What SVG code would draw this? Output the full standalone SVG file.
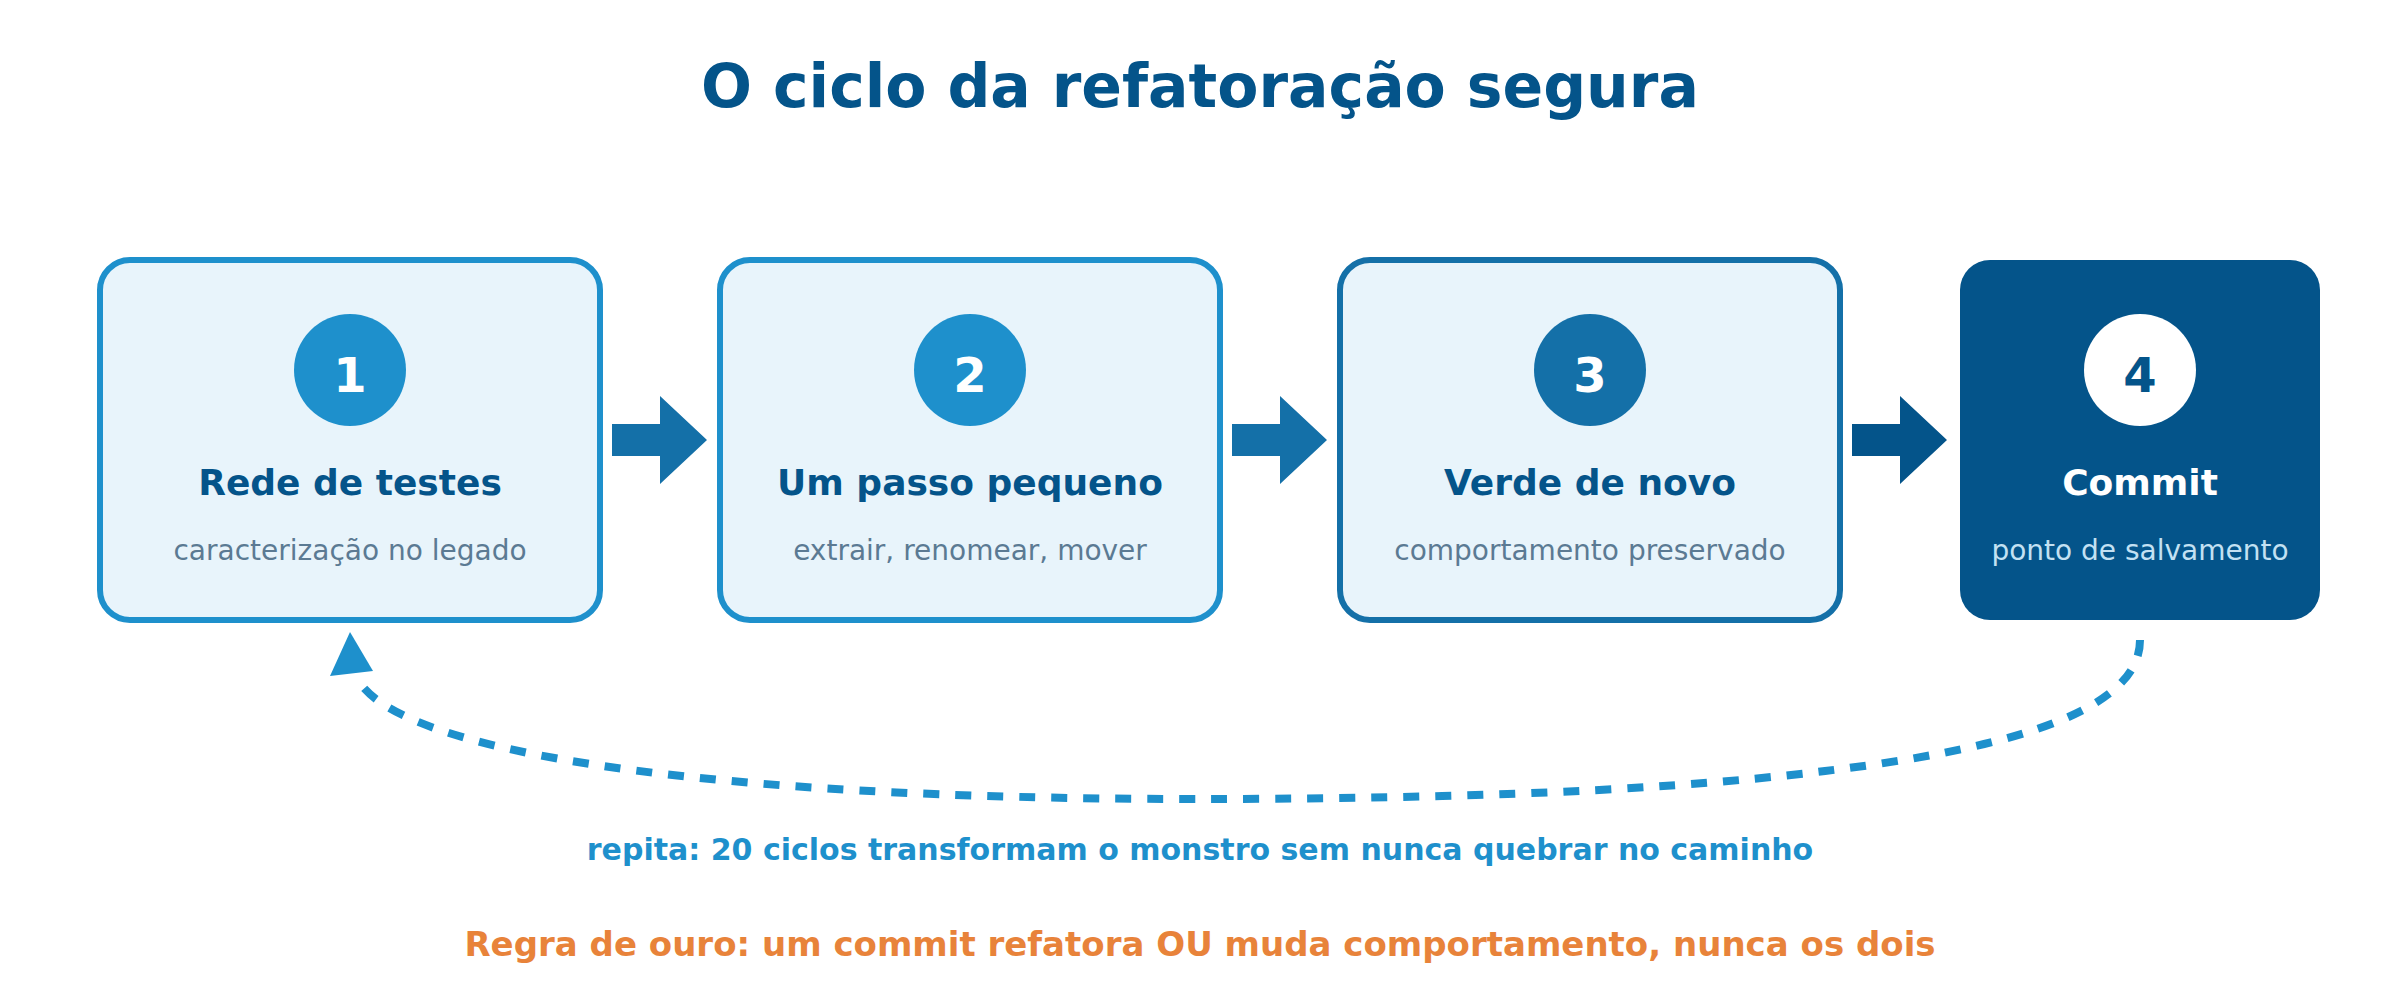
<svg xmlns="http://www.w3.org/2000/svg" width="2400" height="1000" viewBox="0 0 2400 1000">
  <style>
    text { font-family: "DejaVu Sans", "Liberation Sans", sans-serif; text-anchor: middle; }
    .title { font-size: 60px; font-weight: bold; fill: #04548a; }
    .box { fill: #e8f4fb; stroke-width: 6; }
    .num { font-size: 48px; font-weight: bold; fill: #ffffff; }
    .head { font-size: 36px; font-weight: bold; fill: #04548a; }
    .sub { font-size: 28px; fill: #5b7a93; }
    .loop { font-size: 30px; font-weight: bold; fill: #1e90cc; }
    .rule { font-size: 34px; font-weight: bold; fill: #e8833a; }
  </style>
  <rect width="2400" height="1000" fill="#ffffff"/>
  <text class="title" x="1200" y="107">O ciclo da refatoração segura</text>

  <g id="node1">
    <rect class="box" x="100" y="260" width="500" height="360" rx="30" stroke="#1e90cc"/>
    <circle cx="350" cy="370" r="56" fill="#1e90cc"/>
    <text class="num" x="350" y="392">1</text>
    <text class="head" x="350" y="495">Rede de testes</text>
    <text class="sub" x="350" y="560">caracterização no legado</text>
  </g>
  <g id="node2">
    <rect class="box" x="720" y="260" width="500" height="360" rx="30" stroke="#1e90cc"/>
    <circle cx="970" cy="370" r="56" fill="#1e90cc"/>
    <text class="num" x="970" y="392">2</text>
    <text class="head" x="970" y="495">Um passo pequeno</text>
    <text class="sub" x="970" y="560">extrair, renomear, mover</text>
  </g>
  <g id="node3">
    <rect class="box" x="1340" y="260" width="500" height="360" rx="30" stroke="#1470a8"/>
    <circle cx="1590" cy="370" r="56" fill="#1470a8"/>
    <text class="num" x="1590" y="392">3</text>
    <text class="head" x="1590" y="495">Verde de novo</text>
    <text class="sub" x="1590" y="560">comportamento preservado</text>
  </g>
  <g id="node4">
    <rect x="1960" y="260" width="360" height="360" rx="30" fill="#04548a"/>
    <circle cx="2140" cy="370" r="56" fill="#ffffff"/>
    <text class="num" x="2140" y="392" style="fill:#04548a">4</text>
    <text class="head" x="2140" y="495" style="fill:#ffffff">Commit</text>
    <text class="sub" x="2140" y="560" style="fill:#c3e1f3">ponto de salvamento</text>
  </g>

  <g id="connectors">
    <path d="M612,424 H660 V396 L707,440 L660,484 V456 H612 Z" fill="#1470a8"/>
    <path d="M1232,424 H1280 V396 L1327,440 L1280,484 V456 H1232 Z" fill="#1470a8"/>
    <path d="M1852,424 H1900 V396 L1947,440 L1900,484 V456 H1852 Z" fill="#04548a"/>
    <path d="M2140,640 C2140,720 1973,753 1825,771 C1640,794 1400,799 1194,799 C700,799 400,752 358,680" fill="none" stroke="#1e90cc" stroke-width="8" stroke-dasharray="16 16"/>
    <polygon points="350,632 330,676 373,671" fill="#1e90cc"/>
  </g>

  <text class="loop" x="1200" y="860">repita: 20 ciclos transformam o monstro sem nunca quebrar no caminho</text>
  <text class="rule" x="1200" y="956">Regra de ouro: um commit refatora OU muda comportamento, nunca os dois</text>
</svg>
